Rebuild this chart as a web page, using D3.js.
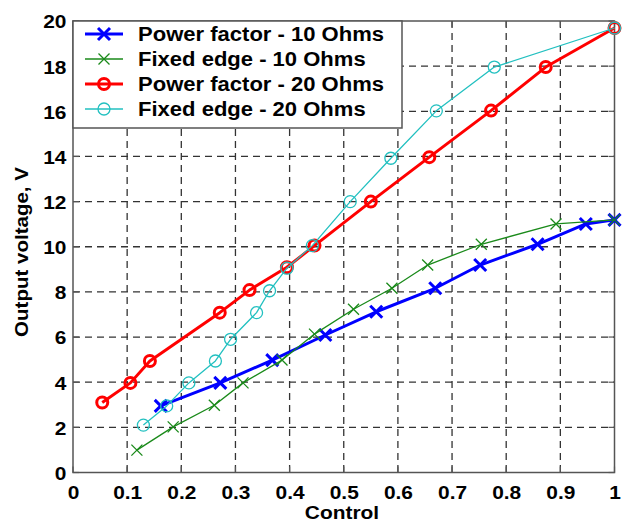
<!DOCTYPE html>
<html><head><meta charset="utf-8">
<script src="https://cdn.jsdelivr.net/npm/d3@7"></script>
<style>body{margin:0;background:#fff}svg{display:block}</style>
</head><body>
<script>
const xTicks = [0,0.1,0.2,0.3,0.4,0.5,0.6,0.7,0.8,0.9,1];
const xTickLabels = ["0","0.1","0.2","0.3","0.4","0.5","0.6","0.7","0.8","0.9","1"];
const yTicks = [0,2,4,6,8,10,12,14,16,18,20];
const seriesNames = ["Power factor - 10 Ohms","Fixed edge - 10 Ohms","Power factor - 20 Ohms","Fixed edge - 20 Ohms"];
const pf10x = [0.162,0.272,0.368,0.466,0.560,0.669,0.752,0.858,0.947,1.0];
const pf10y = [2.95,3.97,4.98,6.09,7.12,8.16,9.19,10.11,11.01,11.19];
const fe10x = [0.118,0.185,0.261,0.314,0.386,0.446,0.518,0.589,0.655,0.754,0.892,1.0];
const fe10y = [0.99,2.02,2.98,3.97,4.98,6.13,7.23,8.16,9.19,10.11,11.01,11.19];
const pf20x = [0.054,0.106,0.142,0.271,0.326,0.395,0.446,0.550,0.658,0.772,0.873,1.0];
const pf20y = [3.10,3.97,4.94,7.08,8.08,9.09,10.05,12.0,13.97,16.03,17.96,19.69];
const fe20x = [0.130,0.173,0.214,0.263,0.291,0.339,0.363,0.395,0.442,0.512,0.587,0.671,0.778,1.0];
const fe20y = [2.10,2.95,3.97,4.94,5.90,7.08,8.05,9.05,10.05,12.0,13.92,16.02,17.96,19.69];

const W = 627, H = 525;
const L = 73, R = 614.5, T = 21, B = 472.5;
const svg = d3.select("body").append("svg").attr("width", W).attr("height", H);
const x = d3.scaleLinear().domain([0,1]).range([L,R]);
const y = d3.scaleLinear().domain([0,20]).range([B,T]);
const font = "'Liberation Sans', Arial, sans-serif";

// grid
const grid = svg.append("g");
grid.selectAll(".gx").data(xTicks.slice(1,-1)).join("line")
  .attr("x1", d=>x(d)).attr("x2", d=>x(d)).attr("y1", T).attr("y2", B)
  .attr("stroke","#333").attr("stroke-width",1.3).attr("stroke-dasharray","7,5");
grid.selectAll(".gy").data(yTicks.slice(1,-1)).join("line")
  .attr("y1", d=>y(d)).attr("y2", d=>y(d)).attr("x1", L).attr("x2", R)
  .attr("stroke","#333").attr("stroke-width",1.3).attr("stroke-dasharray","7,5");

// axes
const xAx = svg.append("g").attr("transform",`translate(0,${B})`)
  .call(d3.axisBottom(x).tickValues(xTicks).tickFormat((d,i)=>xTickLabels[i]).tickSize(0).tickPadding(10));
const yAx = svg.append("g").attr("transform",`translate(${L},0)`)
  .call(d3.axisLeft(y).tickValues(yTicks).tickSize(0).tickPadding(6));
[xAx,yAx].forEach(a=>{
  a.select(".domain").remove();
  a.selectAll("text").attr("font-family",font).attr("font-weight","bold").attr("font-size",19)
    .attr("fill","#000").attr("transform","scale(1.1,1)");
});
xAx.selectAll("text").attr("dy","0.85em");
yAx.selectAll("text").attr("dy","0.36em");

// ticks inside
const tk = svg.append("g").attr("stroke","#555").attr("stroke-width",1.2);
xTicks.forEach(d=>{
  tk.append("line").attr("x1",x(d)).attr("x2",x(d)).attr("y1",B).attr("y2",B-6);
  tk.append("line").attr("x1",x(d)).attr("x2",x(d)).attr("y1",T).attr("y2",T+6);
});
yTicks.forEach(d=>{
  tk.append("line").attr("y1",y(d)).attr("y2",y(d)).attr("x1",L).attr("x2",L+6);
  tk.append("line").attr("y1",y(d)).attr("y2",y(d)).attr("x1",R).attr("x2",R-6);
});
svg.append("rect").attr("x",L).attr("y",T).attr("width",R-L).attr("height",B-T)
  .attr("fill","none").attr("stroke","#555").attr("stroke-width",1.5);

const series = [
  {name:seriesNames[0], xs:pf10x, ys:pf10y, color:"#0000ff", lw:3, marker:"x", ms:6, mw:3},
  {name:seriesNames[1], xs:fe10x, ys:fe10y, color:"#1a8a1a", lw:1.3, marker:"x", ms:5.5, mw:1.3},
  {name:seriesNames[2], xs:pf20x, ys:pf20y, color:"#ff0000", lw:3, marker:"o", ms:5.5, mw:3},
  {name:seriesNames[3], xs:fe20x, ys:fe20y, color:"#22c0c0", lw:1.3, marker:"o", ms:6, mw:1.3},
];
const line = d3.line().x(d=>x(d[0])).y(d=>y(d[1]));

function drawMarker(g, cx, cy, s){
  if(s.marker==="x"){
    g.append("path").attr("d",`M${cx-s.ms},${cy-s.ms}L${cx+s.ms},${cy+s.ms}M${cx-s.ms},${cy+s.ms}L${cx+s.ms},${cy-s.ms}`)
      .attr("stroke",s.color).attr("stroke-width",s.mw).attr("fill","none");
  } else {
    g.append("circle").attr("cx",cx).attr("cy",cy).attr("r",s.ms)
      .attr("stroke",s.color).attr("stroke-width",s.mw).attr("fill","none");
  }
}

series.forEach(s=>{
  const pts = s.xs.map((v,i)=>[v,s.ys[i]]);
  const g = svg.append("g");
  g.append("path").datum(pts).attr("d",line).attr("fill","none")
    .attr("stroke",s.color).attr("stroke-width",s.lw).attr("stroke-linejoin","round");
  pts.forEach(p=>drawMarker(g, x(p[0]), y(p[1]), s));
});

// legend
const lg = svg.append("g");
lg.append("rect").attr("x",L).attr("y",T).attr("width",329).attr("height",107)
  .attr("fill","#fff").attr("stroke","#555").attr("stroke-width",1.5);
series.forEach((s,i)=>{
  const ly = 34 + i*25;
  lg.append("line").attr("x1",85).attr("x2",123).attr("y1",ly).attr("y2",ly)
    .attr("stroke",s.color).attr("stroke-width",s.lw);
  drawMarker(lg, 104, ly, s);
  lg.append("text").attr("transform",`translate(138,${ly}) scale(1.13,1)`).attr("dy","0.36em")
    .attr("font-family",font).attr("font-weight","bold").attr("font-size",19.5).text(s.name);
});

// axis labels
svg.append("text").attr("transform",`translate(342,519) scale(1.1,1)`).attr("text-anchor","middle")
  .attr("font-family",font).attr("font-weight","bold").attr("font-size",19).text("Control");
svg.append("text").attr("transform",`translate(28,252) rotate(-90) scale(1.14,1)`).attr("text-anchor","middle")
  .attr("font-family",font).attr("font-weight","bold").attr("font-size",18).text("Output voltage, V");
</script>
</body></html>
